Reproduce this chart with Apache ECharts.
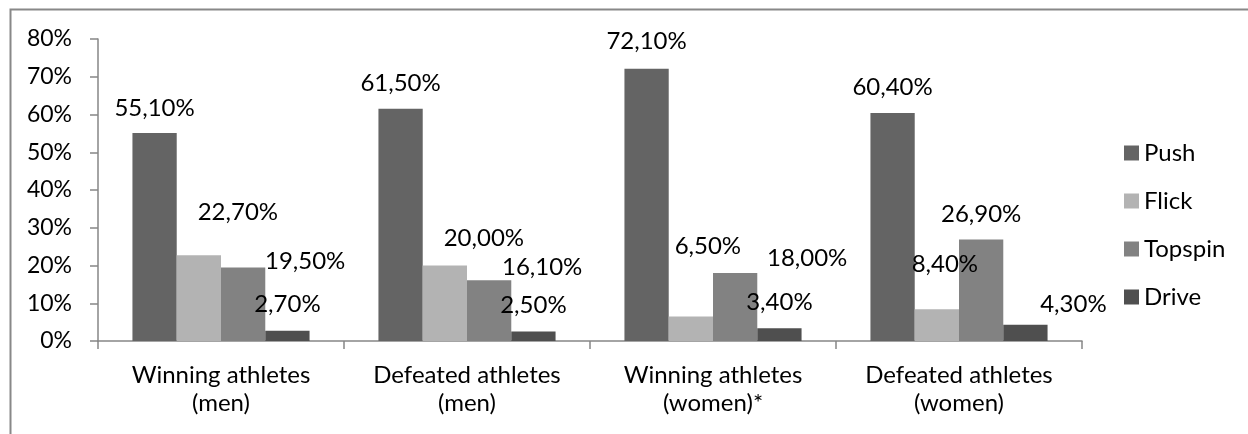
<!DOCTYPE html>
<html>
<head>
<meta charset="utf-8">
<script src="https://cdn.jsdelivr.net/npm/echarts@6/dist/echarts.min.js"></script>
<style>
  html, body { margin: 0; padding: 0; background: #fff; }
  #chart { width: 1248px; height: 434px; }
</style>
</head>
<body>
<div id="chart"></div>
<script>
// Stroke shares (%) by athlete group
const categories = [
  'Winning athletes\n(men)',
  'Defeated athletes\n(men)',
  'Winning athletes\n(women)*',
  'Defeated athletes\n(women)'
];
const seriesNames = ['Push', 'Flick', 'Topspin', 'Drive'];
const pushValues = [55.1, 61.5, 72.1, 60.4];
const flickValues = [22.7, 20.0, 6.5, 8.4];
const topspinValues = [19.5, 16.1, 18.0, 26.9];
const driveValues = [2.7, 2.5, 3.4, 4.3];
const yTicks = [0, 10, 20, 30, 40, 50, 60, 70, 80];

// Hand-placed value label nudges [dx, dy] from the top centre of each bar
const labelNudges = {
  Push:    [[0, -25], [0, -26], [0, -28], [0, -26]],
  Flick:   [[39, -43], [39, -27], [17, -70], [8, -45]],
  Topspin: [[62, -6], [53, -13], [72, -15], [0, -25]],
  Drive:   [[0, -27], [0, -26], [0, -26], [48, -21]]
};

const colors = {
  Push: '#646464',
  Flick: '#b3b3b3',
  Topspin: '#828282',
  Drive: '#4f4f4f'
};

const FONT = 'Lato';
const FS = 24;

function fmtPct(v) {
  return v.toFixed(2).replace('.', ',') + '%';
}

const valueSets = [pushValues, flickValues, topspinValues, driveValues];

const series = seriesNames.map((name, si) => ({
  name: name,
  type: 'bar',
  barGap: '0%',
  barCategoryGap: '28%',
  itemStyle: { color: colors[name] },
  data: valueSets[si].map((v, ci) => ({
    value: v,
    label: {
      show: true,
      position: ['50%', 0],
      offset: labelNudges[name][ci],
      align: 'center',
      verticalAlign: 'middle',
      formatter: () => fmtPct(v),
      fontFamily: FONT,
      fontSize: FS,
      color: '#000'
    }
  }))
}));

const chart = echarts.init(document.getElementById('chart'), null, { renderer: 'canvas' });
chart.setOption({
  animation: false,
  color: seriesNames.map(n => colors[n]),
  graphic: [{
    type: 'rect',
    shape: { x: 10.5, y: 9.5, width: 1400, height: 600 },
    style: { fill: 'none', stroke: '#888888', lineWidth: 2 },
    silent: true,
    z: -1
  }],
  grid: { left: 98, top: 39, width: 984, height: 302, containLabel: false },
  legend: {
    orient: 'vertical',
    left: 1119,
    top: 136,
    itemWidth: 15,
    itemHeight: 15,
    itemGap: 24,
    itemTextGap: 8,
    icon: 'rect',
    data: seriesNames,
    textStyle: { fontFamily: FONT, fontSize: FS, color: '#000' }
  },
  xAxis: {
    type: 'category',
    data: categories,
    axisLine: { lineStyle: { color: '#868686', width: 1.5 } },
    axisTick: { show: true, length: 8, lineStyle: { color: '#868686', width: 1.5 } },
    axisLabel: {
      margin: 20,
      fontFamily: FONT,
      fontSize: FS,
      lineHeight: 28,
      color: '#000',
      interval: 0
    }
  },
  yAxis: {
    type: 'value',
    min: yTicks[0],
    max: yTicks[yTicks.length - 1],
    interval: 10,
    splitLine: { show: false },
    axisLine: { show: true, lineStyle: { color: '#868686', width: 1.5 } },
    axisTick: { show: true, length: 8, lineStyle: { color: '#868686', width: 1.5 } },
    axisLabel: {
      margin: 26,
      fontFamily: FONT,
      fontSize: 23,
      color: '#000',
      formatter: '{value}%'
    }
  },
  series: series
});
</script>
</body>
</html>
